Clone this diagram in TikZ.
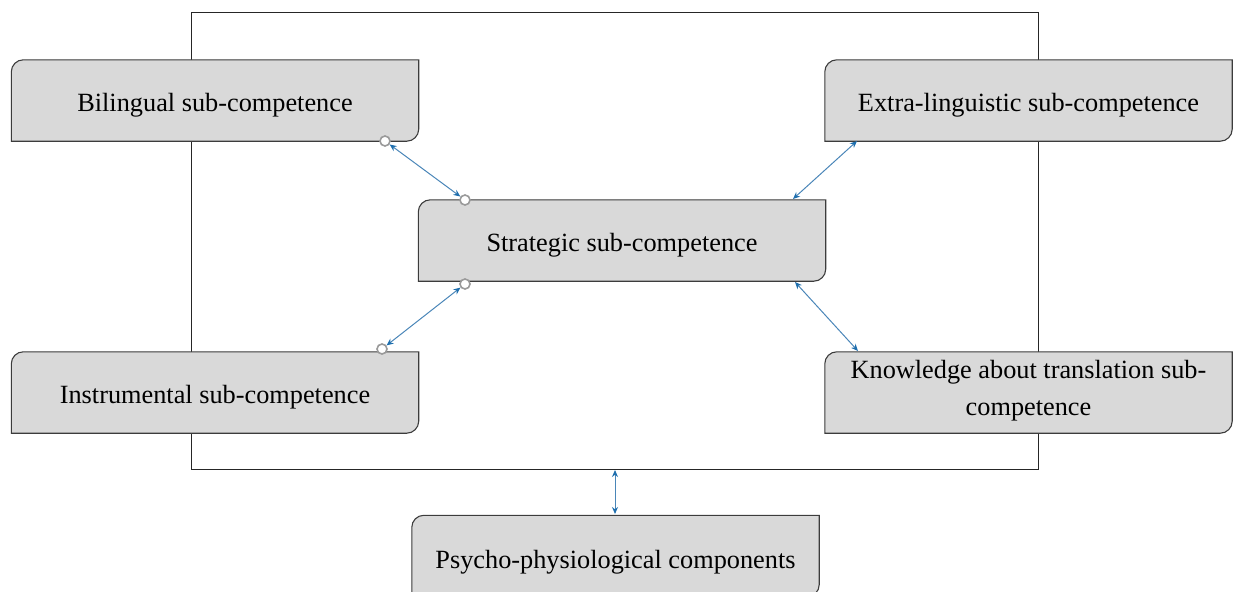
\documentclass[tikz,border=0pt]{standalone}
\usepackage{fontspec}
\setmainfont{Liberation Serif}
\usetikzlibrary{arrows.meta}
\definecolor{boxfill}{HTML}{D9D9D9}
\definecolor{boxedge}{HTML}{3C3C3C}
\definecolor{conn}{HTML}{4A86B8}
\definecolor{tipc}{HTML}{1F6FAE}
\definecolor{ringc}{HTML}{9A9A9A}
\tikzset{
  box/.style={rectangle, minimum width=407pt, minimum height=81pt, inner sep=0pt,
    align=center, font=\fontsize{26.3}{37}\selectfont, text=black},
  boxline/.style={draw=boxedge, fill=boxfill, line width=1.1pt},
  link/.style={draw=conn, line width=1pt, {Stealth[length=7pt,width=6pt,color=tipc]}-{Stealth[length=7pt,width=6pt,color=tipc]}},
  ring/.style={circle, draw=ringc, fill=white, line width=1.6pt, minimum size=10pt, inner sep=0pt},
  framebox/.style={draw=black!85, line width=0.9pt, rectangle, inner sep=0pt}
}
\newcommand{\roundbox}[1]{%
  \path[boxline] ([xshift=12pt]#1.north west) -- (#1.north east)
    -- ([yshift=12pt]#1.south east) arc[start angle=0,end angle=-90,radius=12pt]
    -- (#1.south west) -- ([yshift=-12pt]#1.north west)
    arc[start angle=180,end angle=90,radius=12pt] -- cycle;}
\begin{document}
\begin{tikzpicture}[x=1pt,y=-1pt]
\useasboundingbox (0,0) rectangle (1235,592);
% frame
\node[framebox, minimum width=847pt, minimum height=457pt] (frame) at (614.5,240.5) {};
% boxes (outline first)
\node[box] (bil) at (215,100.5) {};
\node[box] (ext) at (1028.5,100.5) {};
\node[box] (str) at (622,240.5) {};
\node[box] (ins) at (215,392.5) {};
\node[box] (kno) at (1028.5,392.5) {};
\node[box] (psy) at (615.5,556) {};
\roundbox{bil}\roundbox{ext}\roundbox{str}\roundbox{ins}\roundbox{kno}\roundbox{psy}
\node[box] (tbil) at ([yshift=-5pt]bil) {Bilingual sub-competence};
\node[box] (text) at ([yshift=-5pt]ext) {Extra-linguistic sub-competence};
\node[box] (tstr) at ([yshift=-5pt]str) {Strategic sub-competence};
\node[box] (tins) at ([yshift=-5pt]ins) {Instrumental sub-competence};
\node[box] (tkno) at ([yshift=2pt]kno) {Knowledge about translation sub-\\competence};
\node[box] (tpsy) at ([yshift=-6pt]psy) {Psycho-physiological components};
% connectors with rings
\node[ring] (r1) at (385,141) {};
\node[ring] (r2) at (465,200) {};
\node[ring] (r3) at (465,284) {};
\node[ring] (r4) at (382,349) {};
\draw[link] (r1) -- (r2);
\draw[link] (r3) -- (r4);
\coordinate (e1) at (857,141);
\coordinate (e2) at (793,199);
\draw[link] (e1) -- (e2);
\coordinate (k1) at (795,282);
\coordinate (k2) at (858,351);
\draw[link] (k1) -- (k2);
\coordinate (p1) at (615,470);
\coordinate (p2) at (615,514);
\draw[link] (p1) -- (p2);
\end{tikzpicture}
\end{document}
